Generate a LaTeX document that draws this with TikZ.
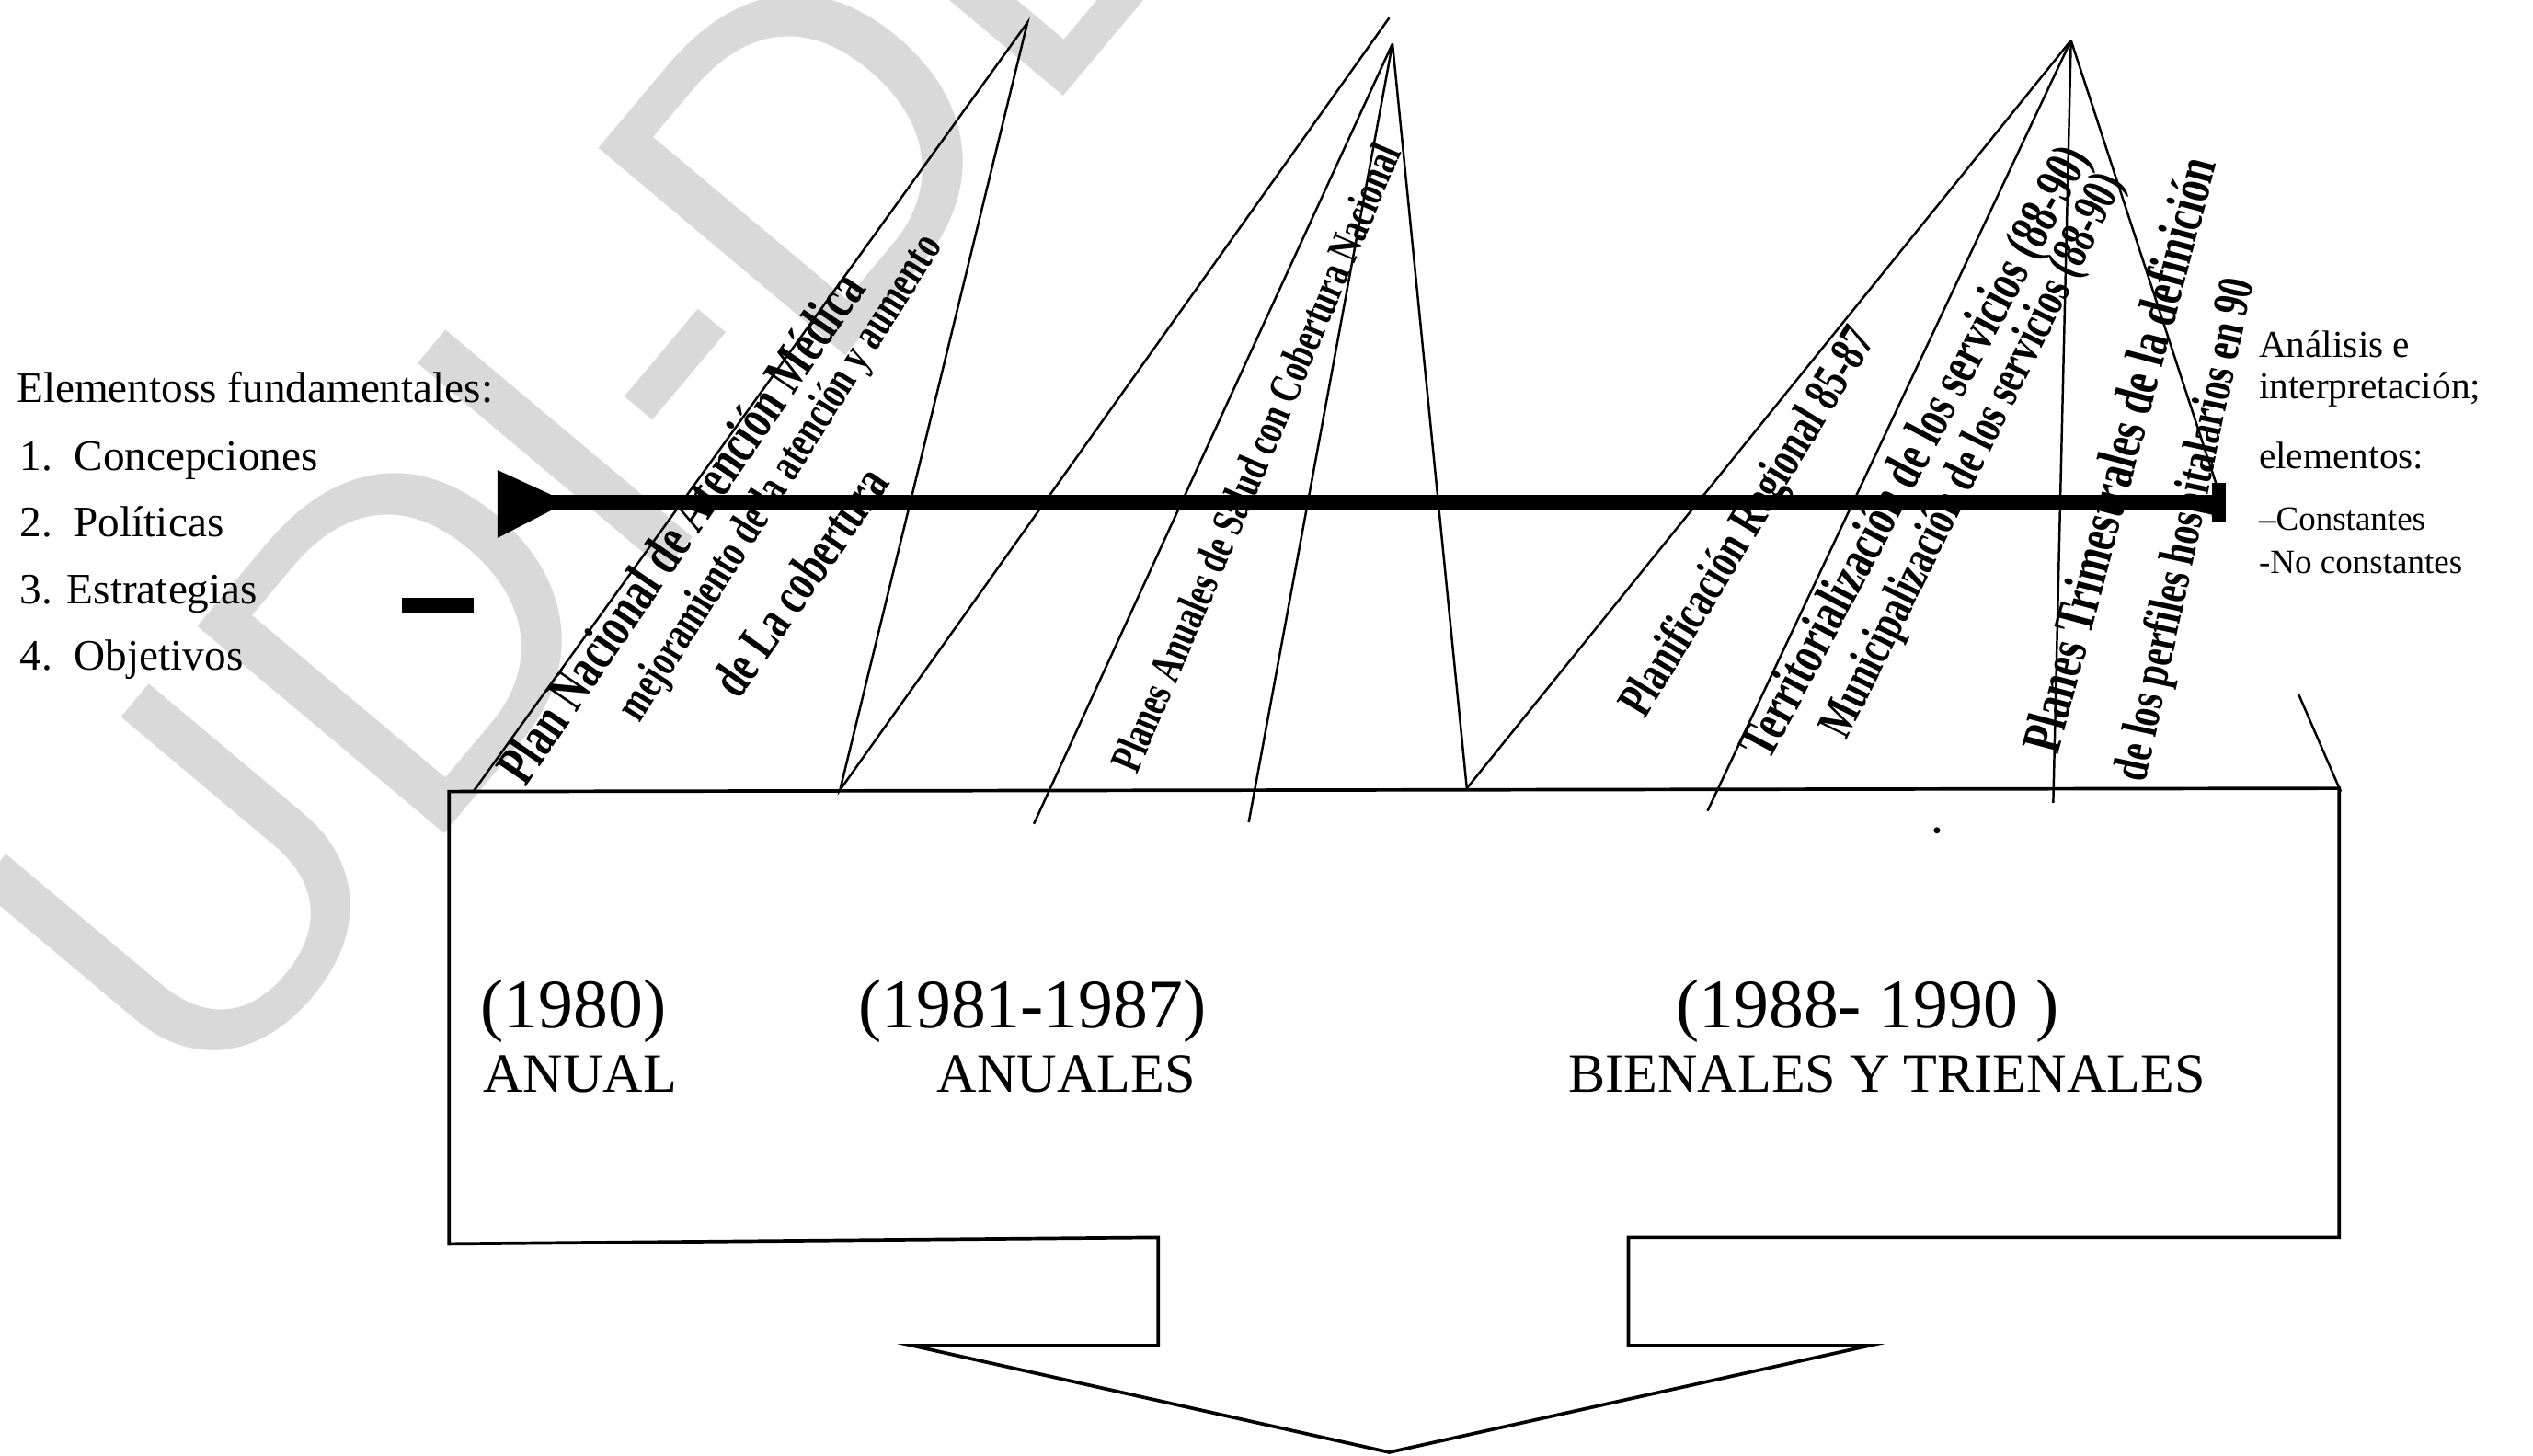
\documentclass[tikz,border=0pt]{standalone}
\usepackage{fontspec}
\setmainfont{Liberation Serif}
\newfontfamily\peakfont[FakeStretch=0.72]{Liberation Serif}
\newfontfamily\markfont{Liberation Sans}
\tikzset{
  ray/.style={line width=0.8pt},
  peak/.style={anchor=base west,inner sep=0pt,font=\peakfont\bfseries},
  plain/.style={anchor=base west,inner sep=0pt},
}
\begin{document}
\begin{tikzpicture}[x=0.2mm,y=-0.2mm]
\useasboundingbox (0,0) rectangle (1568,901);
% marca de agua
\node[anchor=base west,inner sep=0pt,rotate=50,text=black!15,font=\markfont\fontsize{165}{165}\selectfont] (agua) at (125,695) {UDI-DEGI-BIBLIOTECA};
% vertices
\coordinate (A1) at (636,14);
\coordinate (A2) at (860,11);
\coordinate (A2b) at (862,27);
\coordinate (A3) at (1282,25);
\coordinate (B1) at (293,490);
\coordinate (B2) at (520,489);
\coordinate (B3) at (908,488);
\coordinate (C1) at (640,510);
\coordinate (C2) at (773,509);
\coordinate (C3) at (1057,502);
\coordinate (C4) at (1271,497);
\coordinate (C5) at (1372,300);
\draw[ray] (B1)--(A1)--(B2)--(A2);
\draw[ray] (A2b)--(C1) (A2b)--(C2) (A2b)--(B3)--(A3);
\draw[ray] (A3)--(C3) (A3)--(C4) (A3)--(C5);
\draw[ray] (1423,430)--(1449,490);
% caja y flecha
\draw[line width=1.2pt] (278,490) -- (1448,488) -- (1448,766) -- (1008,766) -- (1008,833) -- (1157,833) -- (860,899) -- (565,833) -- (717,833) -- (717,766) -- (278,770) -- cycle;
\fill (1199,514) circle (2);
% textos inclinados
\node[peak,rotate=55.6,font=\peakfont\bfseries\fontsize{20.1}{22}\selectfont] (t1) at (325,488) {Plan Nacional de Atención Médica};
\node[peak,rotate=57.6,font=\peakfont\bfseries\fontsize{16.4}{18}\selectfont] (t2) at (396,448) {mejoramiento de la atención y aumento};
\node[peak,rotate=55,font=\peakfont\bfseries\fontsize{18.9}{21}\selectfont] (t3) at (457,434) {de La cobertura};
\node[peak,rotate=67,font=\peakfont\bfseries\fontsize{15.8}{18}\selectfont] (t4) at (704,480) {Planes Anuales de Salud con Cobertura Nacional};
\node[peak,rotate=58.7,font=\peakfont\bfseries\fontsize{17.9}{20}\selectfont] (t5) at (1018,446) {Planificación Regional 85-87};
\node[peak,rotate=62,font=\peakfont\bfseries\fontsize{19.3}{21}\selectfont] (t6) at (1095,472) {Territorialización de los servicios (88-90)};
\node[peak,rotate=63.6,font=\peakfont\bfseries\fontsize{17.7}{20}\selectfont] (t7) at (1143,459) {Municipalización de los servicios (88-90)};
\node[peak,rotate=75,font=\peakfont\bfseries\fontsize{19.8}{22}\selectfont] (t8) at (1274,468) {Planes Trimestrales de la definición};
\node[peak,rotate=77.8,font=\peakfont\bfseries\fontsize{17.8}{20}\selectfont] (t9) at (1328,485) {de los perfiles hospitalarios en 90};
% eje
\draw[line width=5.6pt] (335,311) -- (1377,311);
\fill (308,291) -- (345,308) -- (345,314) -- (308,333) -- cycle;
\fill (1369,299) rectangle (1378,323);
\fill (249,370) rectangle (293,379);
% izquierda
\node[plain,font=\fontsize{15.3}{17}\selectfont] (elem) at (10,249) {Elementoss fundamentales:};
\foreach \y/\t [count=\i] in {291/{1.\ \ Concepciones},332/{2.\ \ Políticas},374/{3. Estrategias},415/{4.\ \ Objetivos}}
  \node[plain,font=\fontsize{15.3}{17}\selectfont] (item\i) at (12,\y) {\t};
% derecha
\node[plain,font=\fontsize{13.4}{15}\selectfont] (ana) at (1398,221) {Análisis e};
\node[plain,font=\fontsize{13.4}{15}\selectfont] (inter) at (1398,247) {interpretación;};
\node[plain,font=\fontsize{13.4}{15}\selectfont] (ele) at (1398,290) {elementos:};
\node[plain,font=\fontsize{12}{14}\selectfont] (cons) at (1398,328) {--Constantes};
\node[plain,font=\fontsize{12}{14}\selectfont] (nocons) at (1398,355) {-No constantes};
% periodos
\node[anchor=base,font=\fontsize{24.5}{28}\selectfont] (p1) at (355,636) {(1980)};
\node[anchor=base,font=\fontsize{19.5}{22}\selectfont] (q1) at (359,676) {ANUAL};
\node[anchor=base,font=\fontsize{24.5}{28}\selectfont] (p2) at (639,636) {(1981-1987)};
\node[anchor=base,font=\fontsize{19.5}{22}\selectfont] (q2) at (660,676) {ANUALES};
\node[anchor=base,font=\fontsize{24.5}{28}\selectfont] (p3) at (1156,636) {(1988- 1990 )};
\node[anchor=base,font=\fontsize{19.5}{22}\selectfont] (q3) at (1168,676) {BIENALES Y TRIENALES};
\end{tikzpicture}
\end{document}
